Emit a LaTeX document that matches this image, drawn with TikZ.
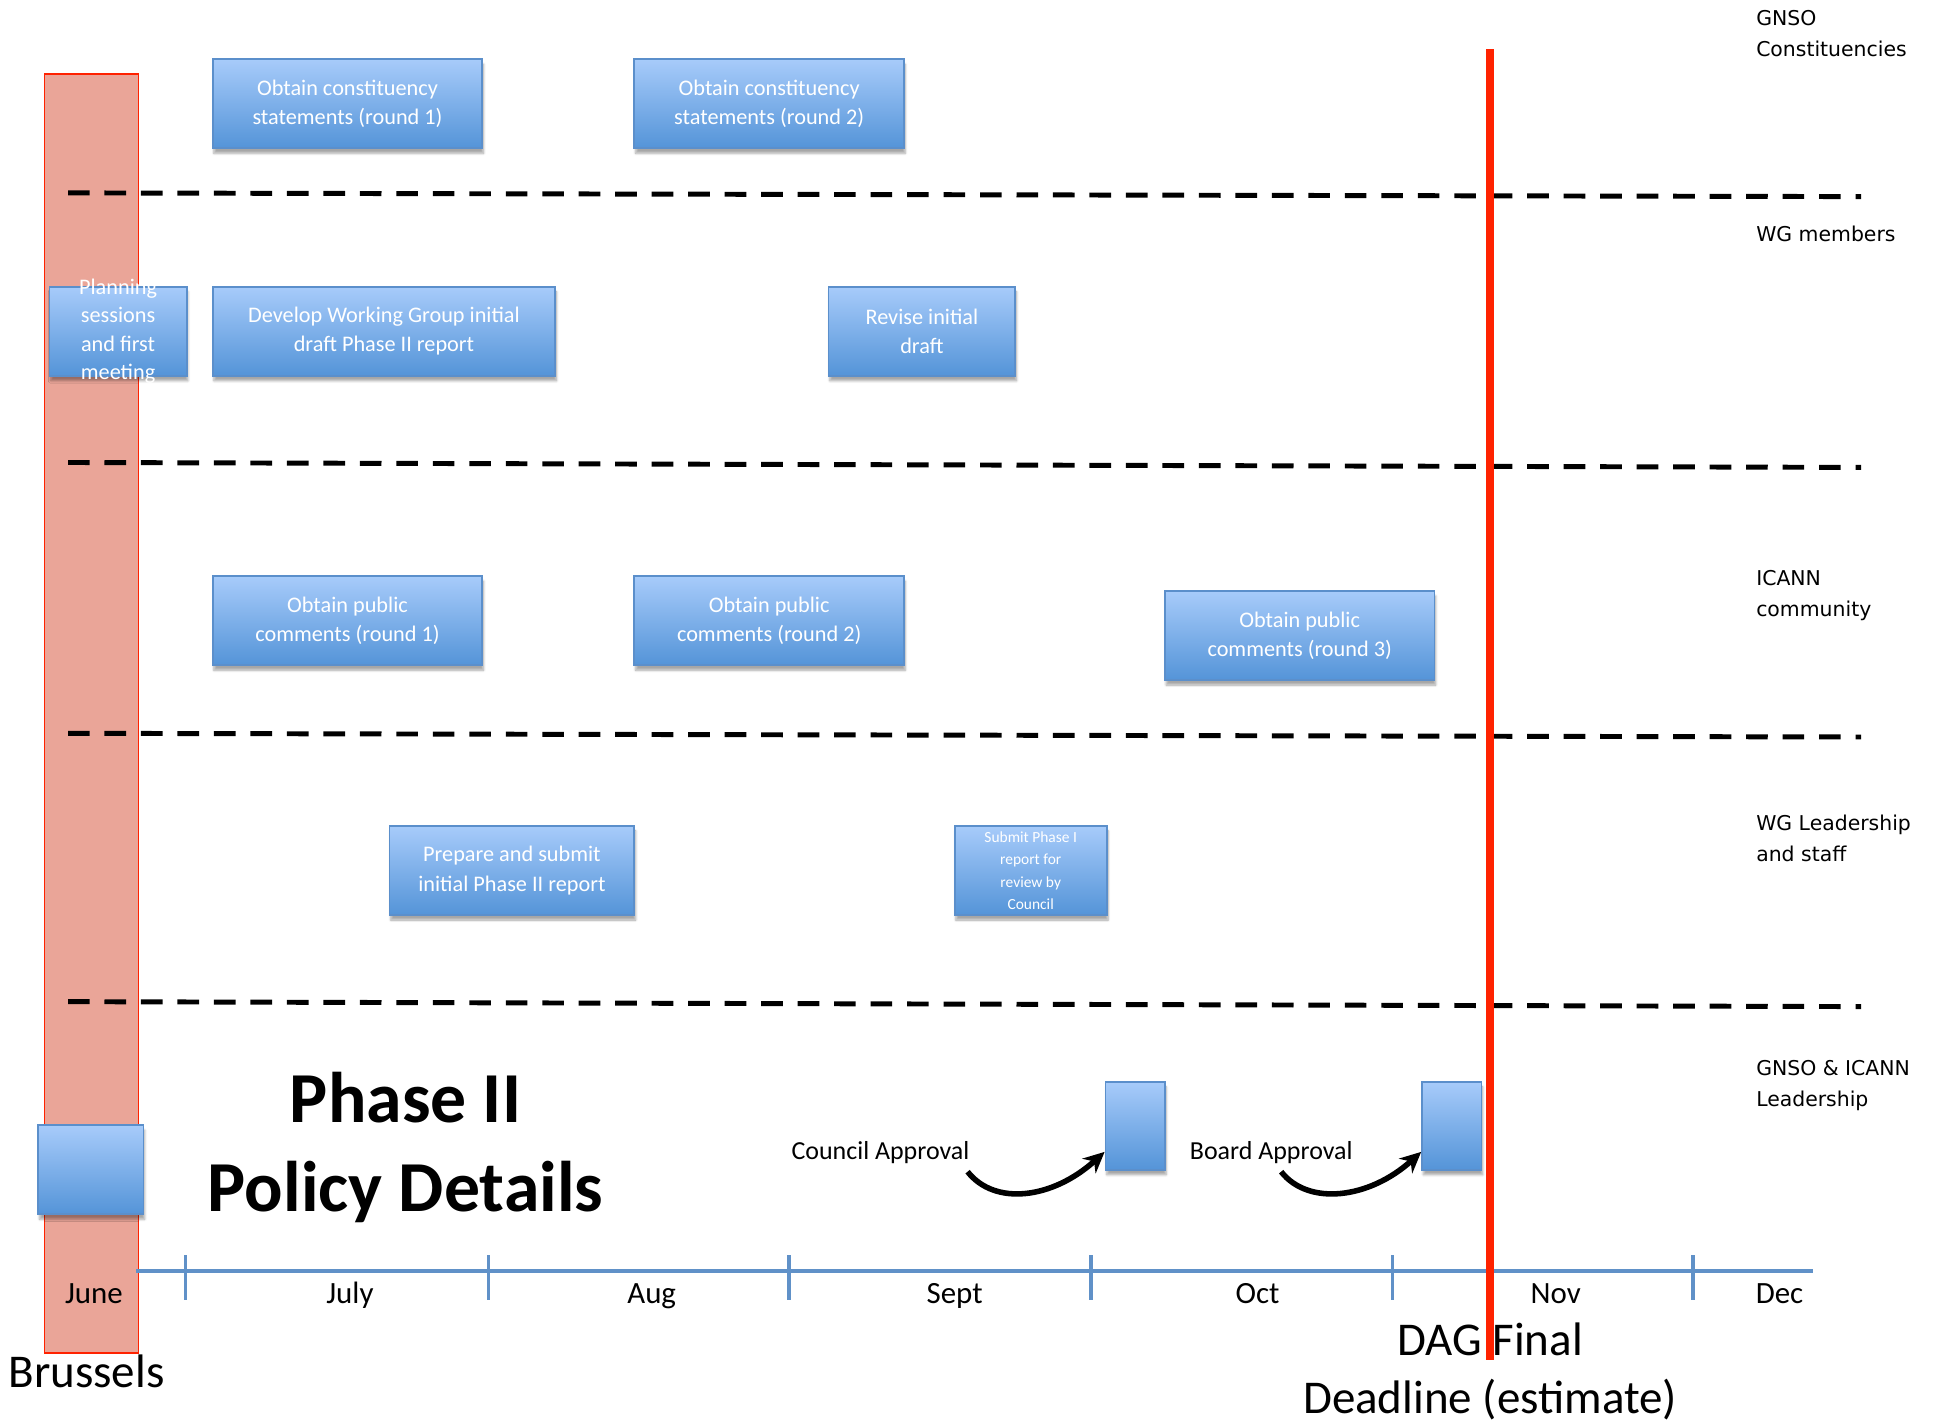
\documentclass[tikz,border=0pt]{standalone}
\usepackage{fontspec}
\setmainfont{Carlito}
\newfontfamily\lanefont{DejaVu Sans}
\usetikzlibrary{arrows.meta,shadows.blur}

\definecolor{taskTop}{RGB}{167,203,250}
\definecolor{taskBot}{RGB}{84,148,216}
\definecolor{taskLine}{RGB}{91,143,203}
\definecolor{bandFill}{RGB}{234,165,152}
\definecolor{deadRed}{RGB}{255,34,0}
\definecolor{axisBlue}{RGB}{96,145,200}

\begin{document}
\begin{tikzpicture}[x=1pt, y=1pt,
    task/.style={draw=taskLine, line width=1.5pt, top color=taskTop, bottom color=taskBot,
        minimum height=72pt, inner sep=0pt, text=white, align=center,
        font=\fontsize{18}{23.5}\selectfont,
        blur shadow={shadow xshift=1pt, shadow yshift=-4pt, shadow blur steps=6, shadow opacity=35}},
    tasktext/.style={text=white, align=center, inner sep=0pt, font=\fontsize{18}{23}\selectfont},
    lane/.style={draw=black, line width=4pt, dash pattern=on 17.5pt off 12pt},
    axis/.style={draw=axisBlue, line width=3.5pt},
    month/.style={anchor=base, font=\fontsize{25}{30}\selectfont},
    lanelabel/.style={anchor=west, align=left, inner sep=0pt, font=\lanefont\fontsize{16.5}{25}\selectfont},
    approval/.style={line width=4.5pt, -{Stealth[length=17pt,width=16pt]}}]
    \useasboundingbox (0,0) rectangle (1568,1151);

    % Brussels meeting band
    \draw[draw=deadRed, fill=bandFill, line width=1.5pt] (36,57) rectangle (112,1091);

    % swim lanes
    \foreach \yl/\yr in {995/992, 777/773, 558/555, 341/337}
        \draw[lane] (55,\yl) -- (1505,\yr);

    % time axis
    \draw[axis] (110,123) -- (1466,123);
    \foreach \x in {150,395,638,882,1126,1369}
        \draw[axis, line width=3pt] (\x,136) -- (\x,100);
    \foreach \x/\m in {76/June, 283/July, 527/Aug, 772/Sept, 1017/Oct, 1258/Nov, 1439/Dec}
        \node[month] (\m) at (\x,97) {\m};

    % deadline
    \draw[draw=deadRed, line width=7pt] (1205,1111) -- (1205,51);
    \node[anchor=base, font=\fontsize{38}{46}\selectfont] (dag) at (1205,55) {DAG Final};
    \node[anchor=base, font=\fontsize{38}{46}\selectfont] (deadline) at (1205,8) {Deadline (estimate)};
    \node[anchor=base, font=\fontsize{38}{46}\selectfont] (brussels) at (70,29) {Brussels};

    % title
    \node[anchor=base, font=\fontsize{58}{70}\bfseries] (phase) at (328,243) {Phase II};
    \node[anchor=base, font=\fontsize{58}{70}\bfseries] (policy) at (328,171) {Policy Details};

    % lane labels
    \node[lanelabel] (gnso) at (1420,1123.5) {GNSO\\Constituencies};
    \node[lanelabel] (wgm) at (1420,962) {WG members};
    \node[lanelabel] (icann) at (1420,669.5) {ICANN\\community};
    \node[lanelabel] (lead) at (1420,473) {WG Leadership\\and staff};
    \node[lanelabel] (board) at (1420,273) {GNSO \& ICANN\\Leadership};

    % tasks
    \node[task, minimum width=218pt] (const1) at (281,1067) {Obtain constituency\\statements (round 1)};
    \node[task, minimum width=218pt] (const2) at (622,1067) {Obtain constituency\\statements (round 2)};
    \node[task, minimum width=111pt] (plan) at (95.5,883) {};
    \node[tasktext] (planText) at (plan) {Planning\\sessions\\and first\\meeting};
    \node[task, minimum width=277pt] (draft) at (310.5,883) {Develop Working Group initial\\draft Phase II report};
    \node[task, minimum width=151pt] (revise) at (745.5,883) {Revise initial\\draft};
    \node[task, minimum width=218pt] (pub1) at (281,649) {Obtain public\\comments (round 1)};
    \node[task, minimum width=218pt] (pub2) at (622,649) {Obtain public\\comments (round 2)};
    \node[task, minimum width=218pt] (pub3) at (1051,637) {Obtain public\\comments (round 3)};
    \node[task, minimum width=198pt] (prep) at (414,447) {Prepare and submit\\initial Phase II report};
    \node[task, minimum width=123pt, font=\fontsize{12.5}{18}\selectfont] (submit) at (833.5,447) {Submit Phase I\\report for\\review by\\Council};
    \node[task, minimum width=85pt] (june) at (73.5,205) {};
    \node[task, minimum width=48pt, minimum height=71pt] (counBox) at (918,240.5) {};
    \node[task, minimum width=48pt, minimum height=71pt] (boardBox) at (1174,240.5) {};

    % approvals
    \node[font=\fontsize{21}{25}\selectfont] (counLbl) at (712,219) {Council Approval};
    \node[font=\fontsize{21}{25}\selectfont] (boardLbl) at (1028,219) {Board Approval};
    \draw[approval] ([shift={(-5pt,-3pt)}]counLbl.south east) .. controls +(22,-28) and +(-42,-38) .. ([yshift=-21pt]counBox.west);
    \draw[approval] ([shift={(8pt,-3pt)}]boardLbl.south) .. controls +(22,-28) and +(-42,-38) .. ([yshift=-21pt]boardBox.west);
\end{tikzpicture}
\end{document}
